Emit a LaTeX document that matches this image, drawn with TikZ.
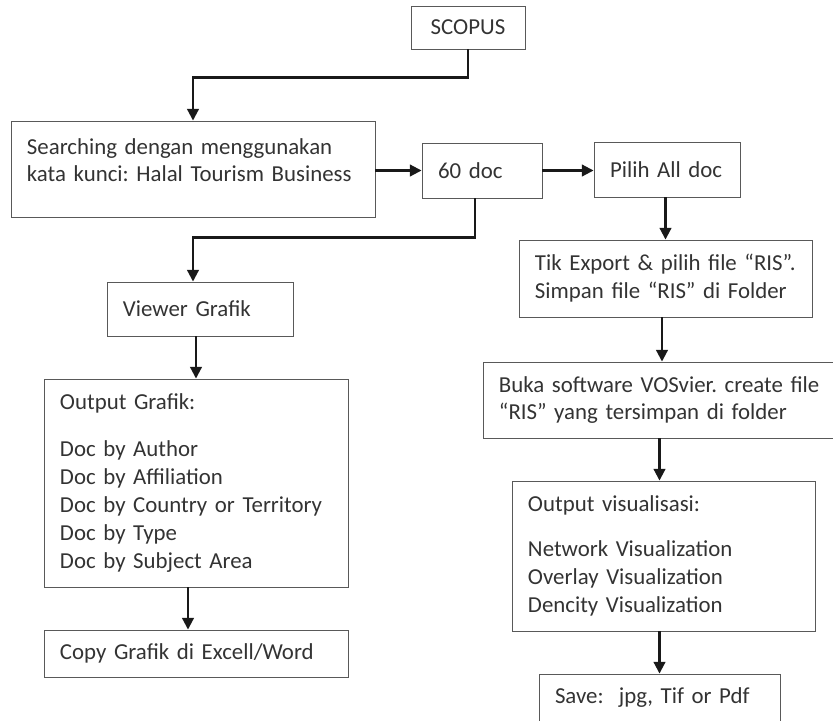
\documentclass[tikz,border=0pt]{standalone}
\usepackage{fontspec}
\setmainfont{Carlito}
\usetikzlibrary{arrows.meta}
\frenchspacing

\begin{document}
\begin{tikzpicture}[x=0.03cm,y=-0.03cm,
  box/.style={draw=black!65,line width=0.8pt,text=black!80,align=left,
    inner xsep=0.48cm,font=\fontsize{19.5}{23.8}\selectfont},
  arr/.style={-{Triangle[length=10pt,width=10pt]},line width=1.8pt,black!90}]
\useasboundingbox (0,0) rectangle (833,720);
\clip (0,0) rectangle (833,720);

% Top and search
\node[box,minimum width=3.42cm,minimum height=1.29cm,align=center] (scopus) at (468,27.5) {SCOPUS};
\node[box,text width=9.96cm,minimum height=2.88cm] (search) at (193,169)
  {Searching dengan menggunakan\\kata kunci: Halal Tourism Business\\[-0.3cm]\mbox{}};
\node[box,text width=2.64cm,minimum height=1.65cm] (doc60) at (482,170.5) {60 doc};
\node[box,text width=3.42cm,minimum height=1.65cm] (pilih) at (667,169.5) {Pilih All doc};

% Left column
\node[box,text width=4.62cm,minimum height=1.62cm] (viewer) at (200,309) {Viewer Grafik};
\node[box,text width=8.16cm,minimum height=6.24cm] (outgraf) at (196,483)
  {Output Grafik:\\[0.57cm]Doc by Author\\Doc by Affiliation\\Doc by Country or Territory\\Doc by Type\\Doc by Subject Area};
\node[box,text width=8.16cm,minimum height=1.41cm] (copy) at (196,653.5) {Copy Grafik di Excell/Word};

% Right column
\node[box,text width=7.83cm,minimum height=2.31cm] (tik) at (665.5,278.5)
  {Tik Export \& pilih file “RIS”.\\Simpan file “RIS” di Folder};
\node[box,text width=9.78cm,minimum height=2.28cm] (buka) at (662,400)
  {Buka software VOSvier. create file\\“RIS” yang tersimpan di folder};
\node[box,text width=8.13cm,minimum height=4.5cm] (outvis) at (663.5,556)
  {Output visualisasi:\\[0.51cm]Network Visualization\\Overlay Visualization\\Dencity Visualization};
\node[box,text width=6.27cm,minimum height=1.44cm] (save) at (659.5,698) {Save:\ \ jpg, Tif or Pdf};

% Arrows
\draw[arr] (scopus.south) -- ++(0,28) -| (search.north);
\draw[arr] (search.east |- doc60.west) -- (doc60.west);
\draw[arr] (doc60.east) -- (doc60.east -| pilih.west);
\draw[arr] ([xshift=-0.21cm]doc60.south) -- ++(0,39) -| (viewer.north -| search.north);
\draw[arr] (viewer.south -| outgraf.north) -- (outgraf.north);
\draw[arr] ([xshift=-0.24cm]outgraf.south) -- ([xshift=-0.24cm]copy.north);
\draw[arr] (tik.north |- pilih.south) -- (tik.north);
\draw[arr] (buka.north |- tik.south) -- (buka.north);
\draw[arr] (save.north |- buka.south) -- (save.north |- outvis.north);
\draw[arr] (save.north |- outvis.south) -- (save.north);
\end{tikzpicture}
\end{document}
